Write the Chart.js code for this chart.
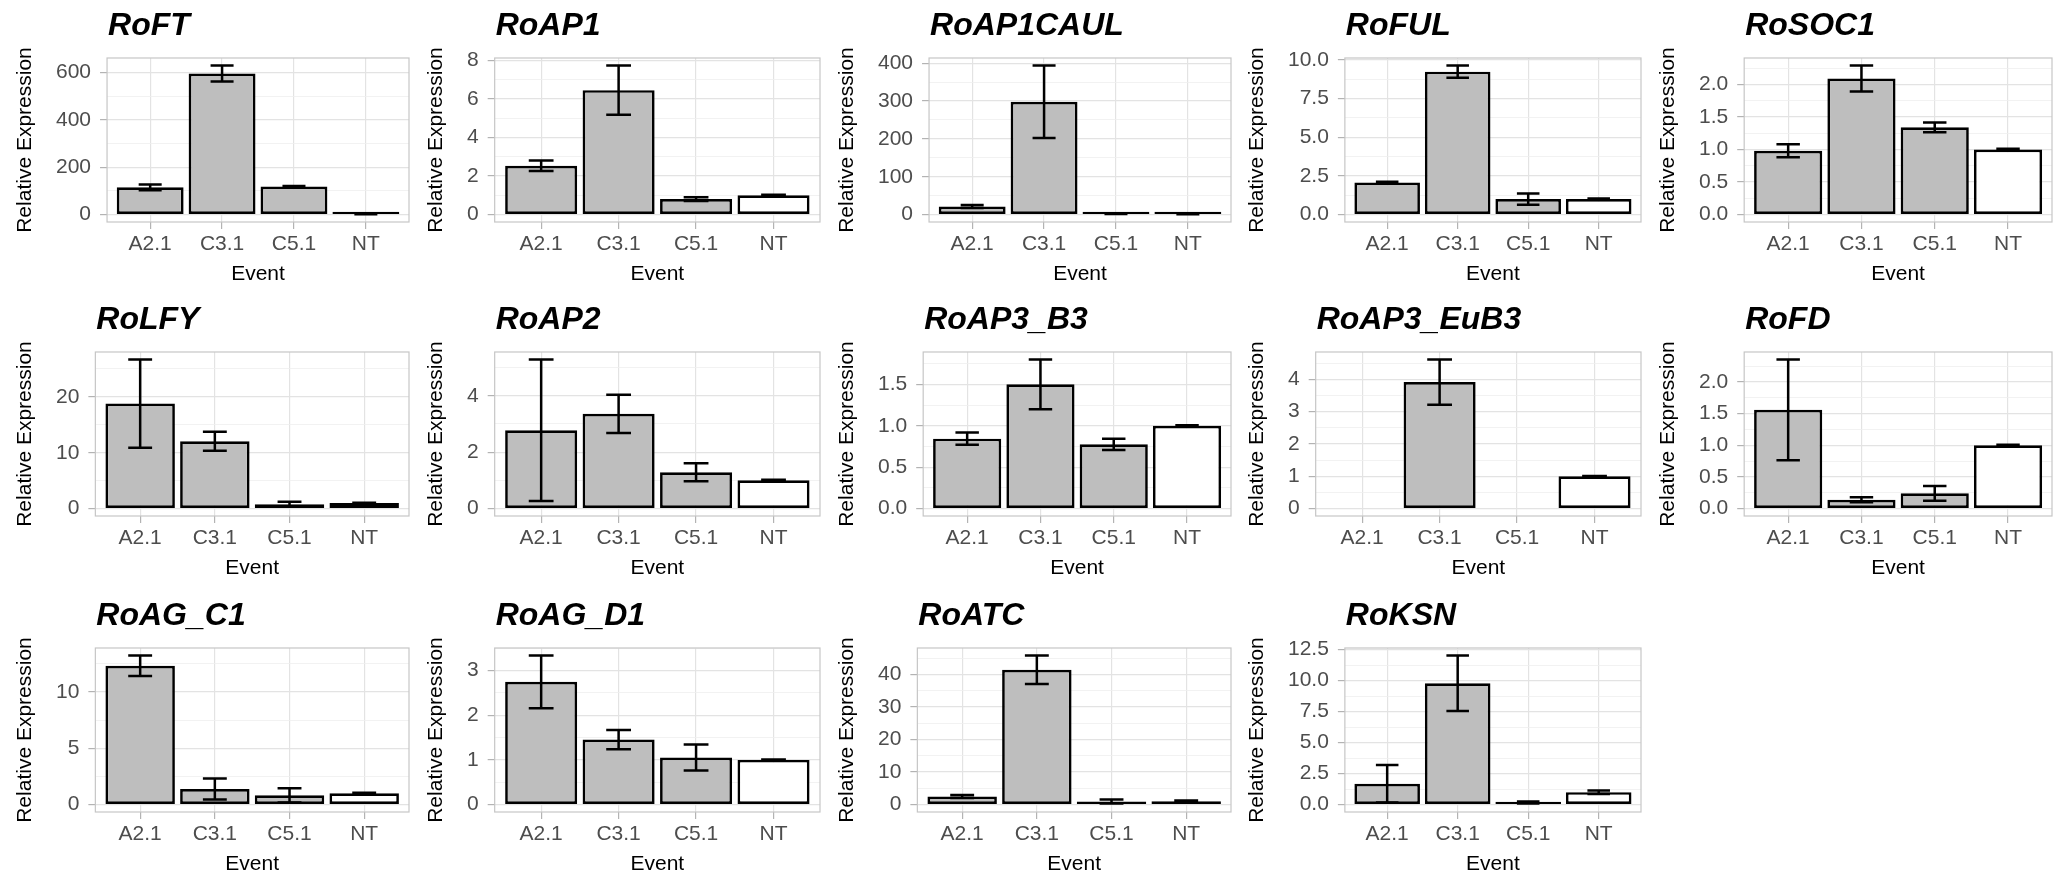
<!DOCTYPE html>
<html>
<head>
<meta charset="utf-8">
<script src="https://cdn.jsdelivr.net/npm/chart.js@4.4.1/dist/chart.umd.min.js"></script>
<style>
  body { margin: 0; background: #fff; }
  #wrap { position: relative; width: 2054px; height: 875px; overflow: hidden; background: #fff; }
  #wrap canvas { position: absolute; }
</style>
</head>
<body>
<div id="wrap"></div>
<script>
// categories
const events = ["A2.1", "C3.1", "C5.1", "NT"];

// mean relative expression and standard error, one pair per gene
const RoFT_mean = [115, 596, 118, 1];
const RoFT_se = [12, 34, 3, 0.05];
const RoAP1_mean = [2.53, 6.45, 0.80, 1.0];
const RoAP1_se = [0.27, 1.28, 0.10, 0.03];
const RoAP1CAUL_mean = [21, 298, 2, 1];
const RoAP1CAUL_se = [4, 96, 0.5, 0.05];
const RoFUL_mean = [2.07, 9.23, 1.0, 1.0];
const RoFUL_se = [0.05, 0.40, 0.36, 0.03];
const RoSOC1_mean = [0.98, 2.09, 1.34, 1.0];
const RoSOC1_se = [0.10, 0.20, 0.075, 0.01];
const RoLFY_mean = [18.8, 12.05, 0.75, 1.0];
const RoLFY_se = [7.9, 1.7, 0.45, 0.05];
const RoAP2_mean = [2.78, 3.36, 1.29, 1.0];
const RoAP2_se = [2.51, 0.68, 0.32, 0.02];
const RoAP3_B3_mean = [0.844, 1.50, 0.776, 1.0];
const RoAP3_B3_se = [0.074, 0.30, 0.068, 0.005];
const RoAP3_EuB3_mean = [null, 3.91, null, 1.0];
const RoAP3_EuB3_se = [null, 0.70, null, 0.01];
const RoFD_mean = [1.56, 0.14, 0.24, 1.0];
const RoFD_se = [0.797, 0.04, 0.115, 0.01];
const RoAG_C1_mean = [12.32, 1.38, 0.82, 1.0];
const RoAG_C1_se = [0.91, 0.94, 0.63, 0.05];
const RoAG_D1_mean = [2.75, 1.455, 1.054, 1.0];
const RoAG_D1_se = [0.59, 0.215, 0.29, 0.01];
const RoATC_mean = [2.45, 41.4, 0.92, 1.0];
const RoATC_se = [0.46, 4.4, 0.6, 0.25];
const RoKSN_mean = [1.68, 9.79, 0.16, 1.0];
const RoKSN_se = [1.52, 2.24, 0.08, 0.14];

// y tick labels per gene
const RoFT_ticks = ["0", "200", "400", "600"];
const RoAP1_ticks = ["0", "2", "4", "6", "8"];
const RoAP1CAUL_ticks = ["0", "100", "200", "300", "400"];
const RoFUL_ticks = ["0.0", "2.5", "5.0", "7.5", "10.0"];
const RoSOC1_ticks = ["0.0", "0.5", "1.0", "1.5", "2.0"];
const RoLFY_ticks = ["0", "10", "20"];
const RoAP2_ticks = ["0", "2", "4"];
const RoAP3_B3_ticks = ["0.0", "0.5", "1.0", "1.5"];
const RoAP3_EuB3_ticks = ["0", "1", "2", "3", "4"];
const RoFD_ticks = ["0.0", "0.5", "1.0", "1.5", "2.0"];
const RoAG_C1_ticks = ["0", "5", "10"];
const RoAG_D1_ticks = ["0", "1", "2", "3"];
const RoATC_ticks = ["0", "10", "20", "30", "40"];
const RoKSN_ticks = ["0.0", "2.5", "5.0", "7.5", "10.0", "12.5"];

const panels = [
  { name: "RoFT", mean: RoFT_mean, se: RoFT_se, ticks: RoFT_ticks },
  { name: "RoAP1", mean: RoAP1_mean, se: RoAP1_se, ticks: RoAP1_ticks },
  { name: "RoAP1CAUL", mean: RoAP1CAUL_mean, se: RoAP1CAUL_se, ticks: RoAP1CAUL_ticks },
  { name: "RoFUL", mean: RoFUL_mean, se: RoFUL_se, ticks: RoFUL_ticks },
  { name: "RoSOC1", mean: RoSOC1_mean, se: RoSOC1_se, ticks: RoSOC1_ticks },
  { name: "RoLFY", mean: RoLFY_mean, se: RoLFY_se, ticks: RoLFY_ticks },
  { name: "RoAP2", mean: RoAP2_mean, se: RoAP2_se, ticks: RoAP2_ticks },
  { name: "RoAP3_B3", mean: RoAP3_B3_mean, se: RoAP3_B3_se, ticks: RoAP3_B3_ticks },
  { name: "RoAP3_EuB3", mean: RoAP3_EuB3_mean, se: RoAP3_EuB3_se, ticks: RoAP3_EuB3_ticks },
  { name: "RoFD", mean: RoFD_mean, se: RoFD_se, ticks: RoFD_ticks },
  { name: "RoAG_C1", mean: RoAG_C1_mean, se: RoAG_C1_se, ticks: RoAG_C1_ticks },
  { name: "RoAG_D1", mean: RoAG_D1_mean, se: RoAG_D1_se, ticks: RoAG_D1_ticks },
  { name: "RoATC", mean: RoATC_mean, se: RoATC_se, ticks: RoATC_ticks },
  { name: "RoKSN", mean: RoKSN_mean, se: RoKSN_se, ticks: RoKSN_ticks }
];

const FONT = '"Liberation Sans", Arial, Helvetica, sans-serif';
const rowTops = [0, 294, 590];
const cellW = 411, cellH = 285;

const wrap = document.getElementById("wrap");

panels.forEach(function (p, k) {
  const row = Math.floor(k / 5), col = k % 5;
  const canvas = document.createElement("canvas");
  canvas.width = cellW;
  canvas.height = cellH;
  canvas.style.left = Math.round(col * 2054 / 5) + "px";
  canvas.style.top = rowTops[row] + "px";
  wrap.appendChild(canvas);

  // y range like ggplot: data range plus 5% each side
  let hi = 0;
  p.mean.forEach(function (m, i) {
    if (m != null) hi = Math.max(hi, m + p.se[i]);
  });
  const yMin = -0.05 * hi, yMax = hi * 1.05;

  // major ticks from labels, minor gridlines halfway between
  const majors = p.ticks.map(function (t) { return parseFloat(t); });
  const step = majors[1] - majors[0];
  const yTicks = [];
  majors.forEach(function (v, i) {
    yTicks.push({ value: v, txt: p.ticks[i], isMinor: false });
  });
  [majors[0] - step / 2].concat(majors.map(function (v) { return v + step / 2; })).forEach(function (v) {
    if (v > yMin && v < yMax) yTicks.push({ value: v, txt: "", isMinor: true });
  });
  yTicks.sort(function (a, b) { return a.value - b.value; });

  const geneTitle = {
    id: "geneTitle",
    afterDraw: function (chart) {
      const ctx = chart.ctx;
      ctx.save();
      ctx.font = "italic bold 32px " + FONT;
      ctx.fillStyle = "#000";
      ctx.textBaseline = "alphabetic";
      ctx.fillText(p.name, chart.chartArea.left + 1, 35);
      ctx.restore();
    }
  };

  const errorBars = {
    id: "errorBars",
    afterDatasetsDraw: function (chart) {
      const xs = chart.scales.x, ys = chart.scales.y, ctx = chart.ctx;
      const a = chart.chartArea;
      ctx.save();
      // panel border
      ctx.strokeStyle = "#c6c6c6";
      ctx.lineWidth = 1.2;
      ctx.strokeRect(a.left, a.top, a.right - a.left, a.bottom - a.top);

      ctx.strokeStyle = "#000";
      ctx.lineWidth = 2.5;
      p.mean.forEach(function (m, i) {
        if (m == null) return;
        const x = xs.getPixelForValue(i + 1);
        const x0 = xs.getPixelForValue(i + 1 - 0.16);
        const x1 = xs.getPixelForValue(i + 1 + 0.16);
        const yt = ys.getPixelForValue(m + p.se[i]);
        const yb = ys.getPixelForValue(m - p.se[i]);
        ctx.beginPath();
        ctx.moveTo(x, yt); ctx.lineTo(x, yb);
        ctx.moveTo(x0, yt); ctx.lineTo(x1, yt);
        ctx.moveTo(x0, yb); ctx.lineTo(x1, yb);
        ctx.stroke();
      });
      ctx.restore();
    }
  };

  new Chart(canvas.getContext("2d"), {
    type: "bar",
    data: {
      datasets: [{
        data: p.mean.map(function (m, i) { return { x: i + 1, y: m }; }),
        backgroundColor: events.map(function (e) { return e === "NT" ? "#ffffff" : "#bebebe"; }),
        borderColor: "#000",
        borderWidth: 2.7,
        borderSkipped: false,
        categoryPercentage: 1,
        barPercentage: 0.93,
        minBarLength: 2.7
      }]
    },
    options: {
      responsive: false,
      animation: false,
      devicePixelRatio: 1,
      layout: { padding: { top: 58, right: 2, left: 0, bottom: 0 } },
      plugins: { legend: { display: false }, tooltip: { enabled: false }, title: { display: false } },
      scales: {
        x: {
          type: "linear",
          min: 0.4,
          max: 4.6,
          offset: false,
          afterBuildTicks: function (s) {
            s.ticks = events.map(function (e, i) { return { value: i + 1 }; });
          },
          afterFit: function (s) { s.height = 63; },
          ticks: {
            autoSkip: false,
            maxRotation: 0,
            padding: 4.5,
            color: "#4d4d4d",
            font: { family: FONT, size: 21, lineHeight: 1 },
            callback: function (v) { return events[Math.round(v) - 1]; }
          },
          grid: { offset: false, color: "#e3e3e3", lineWidth: 1.2, tickLength: 7, tickColor: "#b3b3b3" },
          border: { display: false },
          title: { display: true, text: "Event", color: "#000", font: { family: FONT, size: 21, lineHeight: 1 }, padding: 0 }
        },
        y: {
          type: "linear",
          min: yMin,
          max: yMax,
          afterBuildTicks: function (s) { s.ticks = yTicks; },
          ticks: {
            autoSkip: false,
            padding: 9,
            color: "#4d4d4d",
            font: { family: FONT, size: 21, lineHeight: 1 },
            callback: function (v, i, t) { return t[i].txt; }
          },
          grid: {
            color: function (c) { return c.tick && c.tick.isMinor ? "#efefef" : "#e3e3e3"; },
            lineWidth: function (c) { return c.tick && c.tick.isMinor ? 0.8 : 1.2; },
            tickLength: 7,
            tickColor: function (c) { return c.tick && c.tick.isMinor ? "rgba(0,0,0,0)" : "#b3b3b3"; }
          },
          border: { display: false },
          title: {
            display: true,
            text: "Relative Expression",
            color: "#000",
            font: { family: FONT, size: 21, lineHeight: 1 },
            padding: { top: 15, bottom: 11 }
          }
        }
      }
    },
    plugins: [geneTitle, errorBars]
  });
});
</script>
</body>
</html>
